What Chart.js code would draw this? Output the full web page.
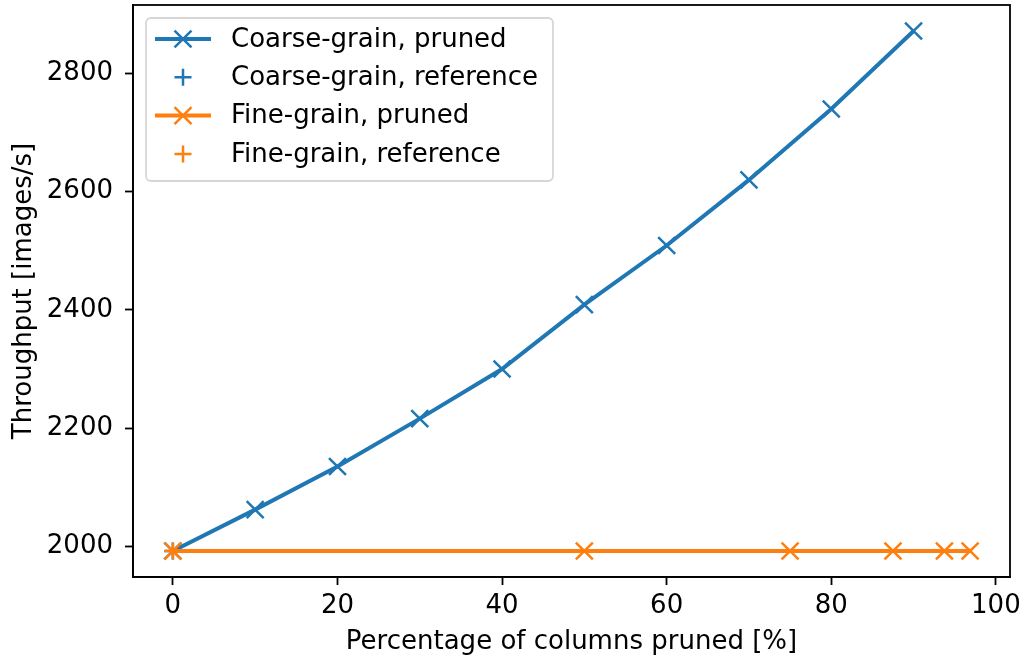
<!DOCTYPE html>
<html>
<head>
<meta charset="utf-8">
<title>Throughput vs. pruning</title>
<script src="https://cdn.jsdelivr.net/npm/chart.js@4"></script>
<style>
  html, body { margin: 0; padding: 0; background: #fff; }
  #chart { display: block; }
</style>
</head>
<body>
<canvas id="chart" width="1025" height="658"></canvas>
<script>
// measured throughput, images/s
const coarseX = [0, 10, 20, 30, 40, 50, 60, 70, 80, 90];
const coarsePruned = [1992, 2062, 2135, 2216, 2300, 2409, 2509, 2620, 2740, 2872];
const fineX = [0, 50, 75, 87.5, 93.75, 96.875];
const finePruned = [1992, 1992, 1992, 1992, 1992, 1992];
const refX = [0];
const coarseRef = [1992];
const fineRef = [1992];

const seriesLabels = ['Coarse-grain, pruned', 'Coarse-grain, reference', 'Fine-grain, pruned', 'Fine-grain, reference'];
const xTicks = [0, 20, 40, 60, 80, 100];
const yTicks = [2000, 2200, 2400, 2600, 2800];

const BLUE = '#1f77b4';
const ORANGE = '#ff7f0e';
const FONT = '"DejaVu Sans", "Liberation Sans", sans-serif';
const FONT_SIZE = 26;

function points(xs, ys) {
    return xs.map((x, i) => ({ x: x, y: ys[i] }));
}

// 5% padding around the data, like matplotlib's autoscale
function padded(values) {
    const lo = Math.min(...values), hi = Math.max(...values);
    const m = (hi - lo) * 0.05;
    return [lo - m, hi + m];
}
const [xMin, xMax] = padded(coarseX.concat(fineX));
const [yMin, yMax] = padded(coarsePruned.concat(finePruned));

// top/right spines
const frame = {
    id: 'frame',
    afterDraw(chart) {
        const { ctx, chartArea: a } = chart;
        ctx.save();
        ctx.strokeStyle = '#000';
        ctx.lineWidth = 1.8;
        ctx.strokeRect(a.left, a.top, a.right - a.left, a.bottom - a.top);
        ctx.restore();
    }
};

// legend box drawn inside the plot, upper left
const insideLegend = {
    id: 'insideLegend',
    afterDraw(chart) {
        const { ctx, chartArea: a } = chart;
        const x0 = a.left + 13, y0 = a.top + 13;
        const w = 407, h = 163, rowH = 38.3;
        ctx.save();
        ctx.beginPath();
        ctx.roundRect(x0, y0, w, h, 5);
        ctx.fillStyle = 'rgba(255,255,255,0.8)';
        ctx.fill();
        ctx.strokeStyle = 'rgba(204,204,204,0.8)';
        ctx.lineWidth = 1.8;
        ctx.stroke();

        chart.data.datasets.forEach((ds, i) => {
            const cy = y0 + 21 + i * rowH;
            const hx = x0 + 9, hw = 56;
            const cx = hx + hw / 2;
            if (ds.showLine !== false) {
                ctx.beginPath();
                ctx.moveTo(hx, cy);
                ctx.lineTo(hx + hw, cy);
                ctx.strokeStyle = ds.borderColor;
                ctx.lineWidth = ds.borderWidth;
                ctx.stroke();
            }
            ctx.strokeStyle = ds.pointBorderColor;
            ctx.lineWidth = ds.pointBorderWidth;
            ctx.beginPath();
            if (ds.pointStyle === 'crossRot') {
                const r = ds.pointRadius * Math.SQRT1_2;
                ctx.moveTo(cx - r, cy - r); ctx.lineTo(cx + r, cy + r);
                ctx.moveTo(cx - r, cy + r); ctx.lineTo(cx + r, cy - r);
            } else {
                const r = ds.pointRadius;
                ctx.moveTo(cx - r, cy); ctx.lineTo(cx + r, cy);
                ctx.moveTo(cx, cy - r); ctx.lineTo(cx, cy + r);
            }
            ctx.stroke();

            ctx.fillStyle = '#000';
            ctx.font = FONT_SIZE + 'px ' + FONT;
            ctx.textBaseline = 'middle';
            ctx.textAlign = 'left';
            ctx.fillText(ds.label, x0 + 85, cy + 1);
        });
        ctx.restore();
    }
};

function lineSet(label, xs, ys, color, style, radius, showLine, order) {
    return {
        label: label,
        data: points(xs, ys),
        borderColor: color,
        backgroundColor: color,
        borderWidth: 4,
        showLine: showLine,
        pointStyle: style,
        pointRadius: radius,
        pointHoverRadius: radius,
        pointBorderColor: color,
        pointBorderWidth: 2.5,
        tension: 0,
        order: order
    };
}

function fixedTicks(values) {
    return function (scale) {
        scale.ticks = values.map(v => ({ value: v }));
    };
}

const ctx = document.getElementById('chart').getContext('2d');
new Chart(ctx, {
    type: 'scatter',
    data: {
        datasets: [
            lineSet(seriesLabels[0], coarseX, coarsePruned, BLUE, 'crossRot', 12, true, 4),
            lineSet(seriesLabels[1], refX, coarseRef, BLUE, 'cross', 8.5, false, 3),
            lineSet(seriesLabels[2], fineX, finePruned, ORANGE, 'crossRot', 12, true, 2),
            lineSet(seriesLabels[3], refX, fineRef, ORANGE, 'cross', 8.5, false, 1)
        ]
    },
    options: {
        responsive: false,
        animation: false,
        layout: { autoPadding: false, padding: { top: 5, right: 15, left: 0, bottom: 0 } },
        plugins: {
            legend: { display: false },
            tooltip: { enabled: false }
        },
        scales: {
            x: {
                type: 'linear',
                min: xMin,
                max: xMax,
                afterBuildTicks: fixedTicks(xTicks),
                afterFit(scale) {
                    scale.height = 81;
                    scale.paddingLeft = 0;
                    scale.paddingRight = 0;
                },
                grid: { drawOnChartArea: false, drawTicks: true, tickLength: 8, tickWidth: 1.8, color: '#000' },
                border: { color: '#000', width: 1.8 },
                ticks: {
                    color: '#000',
                    padding: 6,
                    font: { family: FONT, size: FONT_SIZE },
                    maxRotation: 0,
                    callback: v => String(v)
                },
                title: {
                    display: true,
                    text: 'Percentage of columns pruned [%]',
                    color: '#000',
                    font: { family: FONT, size: FONT_SIZE },
                    padding: { top: 0, bottom: 0 }
                }
            },
            y: {
                type: 'linear',
                min: yMin,
                max: yMax,
                afterBuildTicks: fixedTicks(yTicks),
                afterFit(scale) {
                    scale.width = 133;
                    scale.paddingTop = 0;
                    scale.paddingBottom = 0;
                },
                grid: { drawOnChartArea: false, drawTicks: true, tickLength: 8, tickWidth: 1.8, color: '#000' },
                border: { color: '#000', width: 1.8 },
                ticks: {
                    color: '#000',
                    padding: 12,
                    font: { family: FONT, size: FONT_SIZE },
                    callback: v => String(v)
                },
                title: {
                    display: true,
                    text: 'Throughput [images/s]',
                    color: '#000',
                    font: { family: FONT, size: FONT_SIZE },
                    padding: { top: 9, bottom: 0 }
                }
            }
        }
    },
    plugins: [frame, insideLegend]
});
</script>
</body>
</html>
